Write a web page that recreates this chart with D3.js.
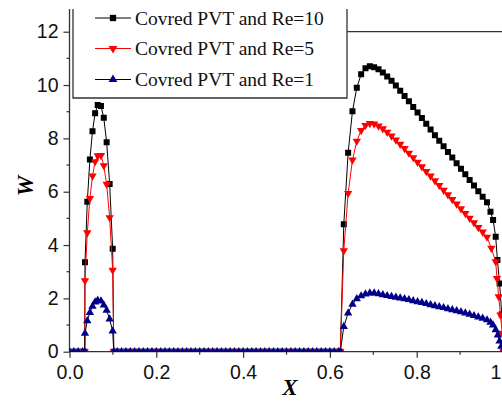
<!DOCTYPE html>
<html>
<head>
<meta charset="utf-8">
<script src="https://cdn.jsdelivr.net/npm/d3@7"></script>
<style>
  body { margin: 0; background: #fff; }
  svg { display: block; }
</style>
</head>
<body>
<div id="chart"></div>
<script>
/* W against X for the covered PVT at three Reynolds numbers */

const seriesNames = ["Covred PVT and Re=10", "Covred PVT and Re=5", "Covred PVT and Re=1"];

// baseline points (W = 0)
const xZeroLeft = [0, 0.01, 0.02, 0.03, 0.035];
const xZeroMid = [0.102, 0.11, 0.12, 0.13, 0.14, 0.15, 0.16, 0.17, 0.18, 0.19, 0.20,
  0.21, 0.22, 0.23, 0.24, 0.25, 0.26, 0.27, 0.28, 0.29, 0.30, 0.31, 0.32, 0.33, 0.34,
  0.35, 0.36, 0.37, 0.38, 0.39, 0.40, 0.41, 0.42, 0.43, 0.44, 0.45, 0.46, 0.47, 0.48,
  0.49, 0.50, 0.51, 0.52, 0.53, 0.54, 0.55, 0.56, 0.57, 0.58, 0.59, 0.60, 0.61, 0.62];

// first peak
const xLeft = [0.0357, 0.041, 0.047, 0.053, 0.059, 0.065, 0.0725, 0.079, 0.0856, 0.0925, 0.0995];
const re10Left = [3.35, 5.62, 7.21, 8.27, 8.94, 9.25, 9.21, 8.77, 7.85, 6.29, 3.86];
const re5Left = [2.66, 4.46, 5.75, 6.59, 7.13, 7.35, 7.36, 6.98, 6.28, 5.03, 3.06];
const re1Left = [0.69, 1.16, 1.47, 1.70, 1.86, 1.93, 1.90, 1.75, 1.55, 1.22, 0.77];

// second region
const xRight = [0.624, 0.632, 0.642, 0.652, 0.662, 0.672, 0.682, 0.692, 0.702, 0.712, 0.722,
  0.732, 0.742, 0.752, 0.762, 0.772, 0.782, 0.792, 0.802, 0.812, 0.822, 0.832, 0.842,
  0.852, 0.862, 0.872, 0.882, 0.892, 0.902, 0.912, 0.922, 0.932, 0.942, 0.952, 0.962];
const re10Right = [0, 4.78, 7.46, 9.02, 9.90, 10.40, 10.63, 10.70, 10.67, 10.59, 10.47,
  10.32, 10.16, 9.98, 9.79, 9.59, 9.39, 9.18, 8.97, 8.76, 8.55, 8.33, 8.12,
  7.91, 7.70, 7.49, 7.28, 7.07, 6.86, 6.65, 6.44, 6.23, 6.02, 5.81, 5.60];
const re5Right = [0, 3.79, 5.94, 7.19, 7.90, 8.30, 8.49, 8.56, 8.54, 8.47, 8.36,
  8.23, 8.09, 7.94, 7.78, 7.62, 7.45, 7.28, 7.11, 6.94, 6.76, 6.59, 6.41,
  6.24, 6.06, 5.89, 5.71, 5.54, 5.36, 5.19, 5.01, 4.84, 4.66, 4.49, 4.30];
const re1Right = [0, 0.94, 1.45, 1.78, 1.98, 2.09, 2.16, 2.20, 2.20, 2.17, 2.13,
  2.10, 2.07, 2.04, 2.01, 1.98, 1.95, 1.91, 1.87, 1.84, 1.80, 1.76, 1.72,
  1.68, 1.65, 1.61, 1.57, 1.53, 1.49, 1.45, 1.40, 1.35, 1.30, 1.25, 1.19];

// steep drop at the outlet
const re10TailX = [0.970, 0.976, 0.982, 0.986, 0.991, 0.996, 1.0];
const re10TailW = [5.25, 4.94, 4.31, 3.44, 2.56, 1.40, 0];
const re5TailX = [0.972, 0.982, 0.985, 0.989, 0.993, 0.997, 1.0];
const re5TailW = [3.88, 3.38, 2.75, 2.06, 1.38, 0.70, 0];
const re1TailX = [0.970, 0.976, 0.982, 0.987, 0.991, 0.995, 1.0];
const re1TailW = [1.10, 1.00, 0.82, 0.62, 0.40, 0.20, 0];

const xTicks = [0, 0.2, 0.4, 0.6, 0.8, 1.0];
const yTicks = [0, 2, 4, 6, 8, 10, 12];

function buildSeries(leftW, rightW, tailX, tailW) {
  const pts = [];
  xZeroLeft.forEach(x => pts.push({x, w: 0}));
  xLeft.forEach((x, i) => pts.push({x, w: leftW[i]}));
  xZeroMid.forEach(x => pts.push({x, w: 0}));
  xRight.forEach((x, i) => pts.push({x, w: rightW[i]}));
  tailX.forEach((x, i) => pts.push({x, w: tailW[i]}));
  return pts;
}

const series = [
  {name: seriesNames[0], pts: buildSeries(re10Left, re10Right, re10TailX, re10TailW),
   line: "#000", fill: "#000", shape: d3.symbolSquare, size: 36, rot: 0},
  {name: seriesNames[1], pts: buildSeries(re5Left, re5Right, re5TailX, re5TailW),
   line: "#ff0000", fill: "#ff0000", shape: d3.symbolTriangle, size: 30, rot: 180},
  {name: seriesNames[2], pts: buildSeries(re1Left, re1Right, re1TailX, re1TailW),
   line: "#000", fill: "#00008b", shape: d3.symbolTriangle, size: 30, rot: 0}
];

const width = 502, height = 401;
const x = d3.scaleLinear().domain([0, 1]).range([69.5, 503.5]);
const y = d3.scaleLinear().domain([0, 12]).range([351.7, 31.7]);

const svg = d3.select("#chart").append("svg")
  .attr("width", width)
  .attr("height", height);

svg.append("clipPath").attr("id", "plot-clip")
  .append("rect")
  .attr("x", x(0)).attr("y", 0)
  .attr("width", width - x(0)).attr("height", y(0));

// axes
const axisColor = "#333";
const xAxis = svg.append("g")
  .attr("transform", `translate(0,${y(0)})`)
  .call(d3.axisBottom(x).tickValues(xTicks).tickSize(6).tickFormat(d3.format(".1f")));
xAxis.select(".domain").remove();
xAxis.selectAll(".tick line").attr("stroke", axisColor).attr("stroke-width", 1.2);
xAxis.selectAll(".tick text")
  .attr("font-family", "'Liberation Sans', Arial, sans-serif")
  .attr("font-size", 19.5).attr("fill", "#111").attr("dy", "0.95em");

svg.append("g").selectAll("line")
  .data([0.1, 0.3, 0.5, 0.7, 0.9])
  .join("line")
  .attr("x1", d => x(d)).attr("x2", d => x(d))
  .attr("y1", y(0)).attr("y2", y(0) + 3)
  .attr("stroke", axisColor).attr("stroke-width", 1.2);

const yAxis = svg.append("g")
  .attr("transform", `translate(${x(0)},0)`)
  .call(d3.axisLeft(y).tickValues(yTicks).tickSize(6).tickPadding(5));
yAxis.select(".domain").remove();
yAxis.selectAll(".tick line").attr("stroke", axisColor).attr("stroke-width", 1.2);
yAxis.selectAll(".tick text")
  .attr("font-family", "'Liberation Sans', Arial, sans-serif")
  .attr("font-size", 19.5).attr("fill", "#111");

svg.append("g").selectAll("line")
  .data([1, 3, 5, 7, 9, 11])
  .join("line")
  .attr("x1", x(0) - 3).attr("x2", x(0))
  .attr("y1", d => y(d)).attr("y2", d => y(d))
  .attr("stroke", axisColor).attr("stroke-width", 1.2);

// axis lines and frame pieces
svg.append("line")
  .attr("x1", x(0)).attr("x2", x(0))
  .attr("y1", 9).attr("y2", y(0))
  .attr("stroke", axisColor).attr("stroke-width", 1.3);
svg.append("line")
  .attr("x1", x(0)).attr("x2", width)
  .attr("y1", y(0)).attr("y2", y(0))
  .attr("stroke", axisColor).attr("stroke-width", 1.3);
svg.append("line")
  .attr("x1", 347).attr("x2", width)
  .attr("y1", y(12)).attr("y2", y(12))
  .attr("stroke", axisColor).attr("stroke-width", 1.3);

// series
const lineGen = d3.line().x(d => x(d.x)).y(d => y(d.w));
const plot = svg.append("g").attr("clip-path", "url(#plot-clip)");

series.forEach(s => {
  const g = plot.append("g");
  g.append("path")
    .datum(s.pts)
    .attr("fill", "none")
    .attr("stroke", s.line)
    .attr("stroke-width", 1)
    .attr("d", lineGen);
  g.selectAll("path.mk")
    .data(s.pts)
    .join("path")
    .attr("class", "mk")
    .attr("d", d3.symbol().type(s.shape).size(s.size))
    .attr("transform", d => `translate(${x(d.x)},${y(d.w)}) rotate(${s.rot})`)
    .attr("fill", s.fill);
});

// legend
const legend = svg.append("g");
legend.append("path")
  .attr("d", "M73,9 V98 H347 V9")
  .attr("fill", "#fff")
  .attr("stroke", axisColor)
  .attr("stroke-width", 1.3);

const rows = legend.selectAll("g.row")
  .data(series)
  .join("g")
  .attr("class", "row")
  .attr("transform", (d, i) => `translate(0,${[18, 48.5, 79.5][i]})`);
rows.append("line")
  .attr("x1", 95).attr("x2", 131)
  .attr("stroke", d => d.line).attr("stroke-width", 1);
rows.append("path")
  .attr("d", d => d3.symbol().type(d.shape).size(d.size + 4)())
  .attr("transform", d => `translate(113,0) rotate(${d.rot})`)
  .attr("fill", d => d.fill);
rows.append("text")
  .attr("x", 135).attr("y", 6.8)
  .attr("font-family", "'Liberation Serif', 'Times New Roman', serif")
  .attr("font-size", 19.5)
  .attr("fill", "#111")
  .text(d => d.name);

// axis titles
svg.append("text")
  .attr("x", 290).attr("y", 395)
  .attr("text-anchor", "middle")
  .attr("font-family", "'Liberation Serif', 'Times New Roman', serif")
  .attr("font-weight", "bold").attr("font-style", "italic")
  .attr("font-size", 23)
  .text("X");

svg.append("text")
  .attr("transform", "translate(33,186) rotate(-90)")
  .attr("text-anchor", "middle")
  .attr("font-family", "'Liberation Serif', 'Times New Roman', serif")
  .attr("font-weight", "bold").attr("font-style", "italic")
  .attr("font-size", 23)
  .text("W");
</script>
</body>
</html>
